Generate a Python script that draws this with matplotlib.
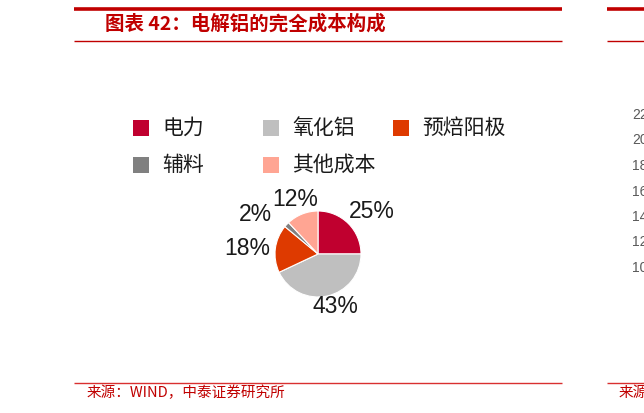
import matplotlib
matplotlib.use("Agg")
import matplotlib.pyplot as plt
import numpy as np

plt.rcParams['font.family'] = ['Noto Sans CJK SC', 'DejaVu Sans']

# data
title = "图表 42：电解铝的完全成本构成"
source = "来源：WIND，中泰证券研究所"
categories = ["电力", "氧化铝", "预焙阳极", "辅料", "其他成本"]
shares = [25, 43, 18, 2, 12]
colors = ["#C0002F", "#BFBFBF", "#DE3A00", "#808080", "#FFA593"]
# tick labels of the neighbouring chart, cut off at the right edge
side_ticks = ["22", "20", "18", "16", "14", "12", "10"]

W, H = 644, 413
fig = plt.figure(figsize=(W / 100, H / 100), dpi=100)

# overlay axes in pixel coordinates for the frame, title and source
bg = fig.add_axes([0, 0, 1, 1])
bg.set_xlim(0, W)
bg.set_ylim(H, 0)
bg.axis("off")

red = "#C00000"
bg.plot([74, 562], [8.5, 8.5], color=red, lw=2.6, solid_capstyle="butt")
bg.plot([607, W], [8.5, 8.5], color=red, lw=2.6, solid_capstyle="butt")
bg.plot([74, 562], [41.3, 41.3], color=red, lw=1.0, solid_capstyle="butt")
bg.plot([607, W], [41.3, 41.3], color=red, lw=1.0, solid_capstyle="butt")
bg.plot([74, 562], [382.7, 382.7], color="#D93030", lw=1.0, solid_capstyle="butt")
bg.plot([607, W], [382.7, 382.7], color="#D93030", lw=1.0, solid_capstyle="butt")

bg.text(105, 23.5, title, color=red, fontsize=14, fontweight="bold",
        ha="left", va="center")
bg.text(87, 393, source, color=red, fontsize=10.5, ha="left", va="center")
bg.text(619, 393, source[:2], color=red, fontsize=10.5, ha="left", va="center")

for i, t in enumerate(side_ticks):
    bg.text(632, 115 + i * 25.5, t, color="#595959", fontsize=10,
            family="Liberation Sans", ha="left", va="center")

# legend: three per row
leg_x = [133, 263, 393]
leg_y = [128, 165]
for i, (name, c) in enumerate(zip(categories, colors)):
    x = leg_x[i % 3]
    y = leg_y[i // 3]
    bg.add_patch(plt.Rectangle((x, y - 8), 16, 16, color=c, lw=0))
    bg.text(x + 29, y, name, fontsize=15, color="#1a1a1a", ha="left", va="center")

# pie
cx, cy, r = 318, 254, 43
ax = fig.add_axes([(cx - r) / W, (H - cy - r) / H, 2 * r / W, 2 * r / H])
wedges, _ = ax.pie(shares, colors=colors, startangle=90, counterclock=False,
                   radius=1, wedgeprops=dict(edgecolor="white", linewidth=0.8))
ax.set_xlim(-1, 1)
ax.set_ylim(-1, 1)
ax.set_aspect("equal")
ax.axis("off")

# label distances (in radii) and angle nudges (deg) per wedge
lab_dist = [1.6, 1.28, 1.66, 1.72, 1.38]
lab_nudge = [-7, 6, 3, 11, 1]
for w, s, d, n in zip(wedges, shares, lab_dist, lab_nudge):
    ang = np.deg2rad((w.theta1 + w.theta2) / 2 + n)
    ax.text(d * np.cos(ang), d * np.sin(ang), f"{s}%", fontsize=16.5,
            family="Liberation Sans", color="#1a1a1a", ha="center", va="center")

fig.savefig("out.png", dpi=100)
